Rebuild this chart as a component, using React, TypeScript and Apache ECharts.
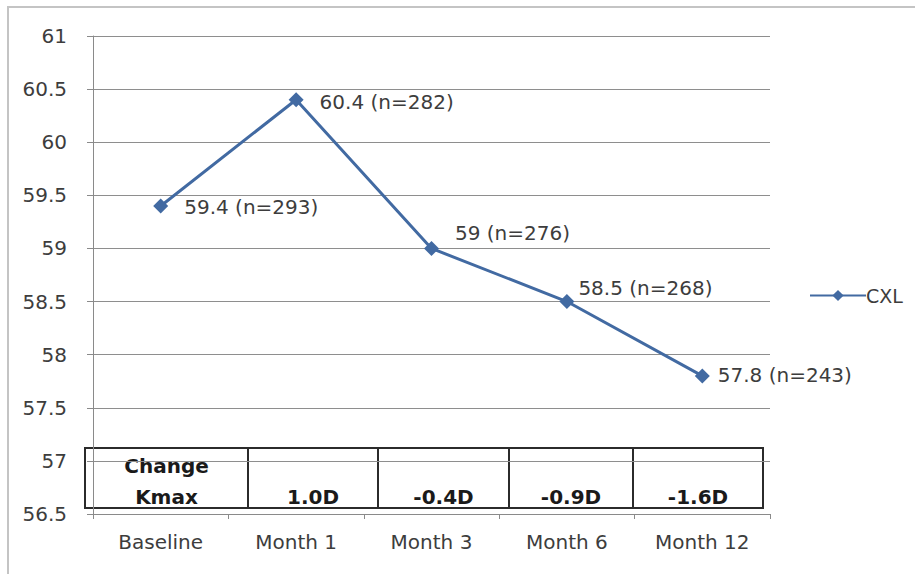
import React, { useEffect, useRef } from "react";
import * as echarts from "echarts";

const categories = ["Baseline", "Month 1", "Month 3", "Month 6", "Month 12"];
const values = [59.4, 60.4, 59, 58.5, 57.8];
const sampleSizes = [293, 282, 276, 268, 243];
const seriesName = "CXL";
const tableHeader = ["Change", "Kmax"];
const changeValues = ["1.0D", "-0.4D", "-0.9D", "-1.6D"];

const LINE_COLOR = "#426aa2";
const TEXT_COLOR = "#3d3d3d";
const FONT = "'DejaVu Sans', sans-serif";
const TABLE_FONT = "'DejaVu Sans', sans-serif";

export default function App() {
  const ref = useRef<HTMLDivElement>(null);

  useEffect(() => {
    if (!ref.current) return;
    const chart = echarts.init(ref.current, null, { renderer: "svg" });

    const labelOffsets = [
      [14, 1],
      [14, 2],
      [14, -15],
      [2, -14],
      [6, -1],
    ];

    // table layout (decorative overlay)
    const colEdges = [85, 248, 378, 509, 633, 763];
    const tTop = 448;
    const tBottom = 508;
    const tableEls: any[] = [];
    for (let i = 0; i < colEdges.length - 1; i++) {
      tableEls.push({
        type: "rect",
        shape: { x: colEdges[i], y: tTop, width: colEdges[i + 1] - colEdges[i], height: tBottom - tTop },
        style: { fill: "#ffffff", stroke: "#2b2b2b", lineWidth: 2 },
      });
    }
    const textStyleBase = {
      align: "center",
      verticalAlign: "middle",
      fontFamily: TABLE_FONT,
      fontWeight: "bold",
      fontSize: 20,
      fill: "#1a1a1a",
    };
    tableHeader.forEach((t, i) => {
      tableEls.push({
        type: "text",
        style: {
          ...textStyleBase,
          text: t,
          x: (colEdges[0] + colEdges[1]) / 2,
          y: i === 0 ? 466 : 497,
        },
      });
    });
    changeValues.forEach((v, i) => {
      tableEls.push({
        type: "text",
        style: {
          ...textStyleBase,
          text: v,
          x: (colEdges[i + 1] + colEdges[i + 2]) / 2,
          y: 497,
        },
      });
    });

    chart.setOption({
      animation: false,
      backgroundColor: "#ffffff",
      textStyle: { fontFamily: FONT },
      grid: { left: 93, top: 36, right: 145, bottom: 60, containLabel: false },
      legend: {
        data: [seriesName],
        orient: "vertical",
        left: 804,
        top: 281,
        itemWidth: 56,
        itemHeight: 14,
        itemGap: 4,
        textStyle: { fontFamily: FONT, fontSize: 19, color: TEXT_COLOR, padding: [0, 0, 0, -5] },
      },
      xAxis: {
        type: "category",
        data: categories,
        boundaryGap: true,
        axisLine: { lineStyle: { color: "#8a8a8a", width: 1 } },
        axisTick: { show: true, length: 5, lineStyle: { color: "#8a8a8a" } },
        axisLabel: { color: TEXT_COLOR, fontFamily: FONT, fontSize: 20, margin: 18 },
      },
      yAxis: {
        type: "value",
        min: 56.5,
        max: 61,
        interval: 0.5,
        axisLine: { show: true, lineStyle: { color: "#8a8a8a", width: 1 } },
        axisTick: { show: true, length: 6, lineStyle: { color: "#8a8a8a" } },
        axisLabel: { color: TEXT_COLOR, fontFamily: FONT, fontSize: 20, margin: 26 },
        splitLine: { show: true, lineStyle: { color: "#8e8e8e", width: 1 } },
      },
      series: [
        {
          name: seriesName,
          type: "line",
          data: values.map((v, i) => ({
            value: v,
            label: { offset: labelOffsets[i] },
          })),
          symbol: "diamond",
          symbolSize: 15,
          lineStyle: { color: LINE_COLOR, width: 3 },
          itemStyle: { color: LINE_COLOR },
          label: {
            show: true,
            position: "right",
            distance: 2,
            color: TEXT_COLOR,
            fontFamily: FONT,
            fontSize: 20,
            formatter: (p: any) => `${p.value} (n=${sampleSizes[p.dataIndex]})`,
          },
          z: 3,
        },
      ],
      graphic: [
        {
          type: "rect",
          z: -10,
          silent: true,
          shape: { x: 8, y: 7, width: 930, height: 600 },
          style: { fill: "none", stroke: "#c4c4c4", lineWidth: 2 },
        },
        { type: "group", z: 50, children: tableEls },
      ],
    });

    return () => chart.dispose();
  }, []);

  return (
    <div
      ref={ref}
      style={{ position: "absolute", left: 0, top: 0, width: 915, height: 574 }}
    />
  );
}
